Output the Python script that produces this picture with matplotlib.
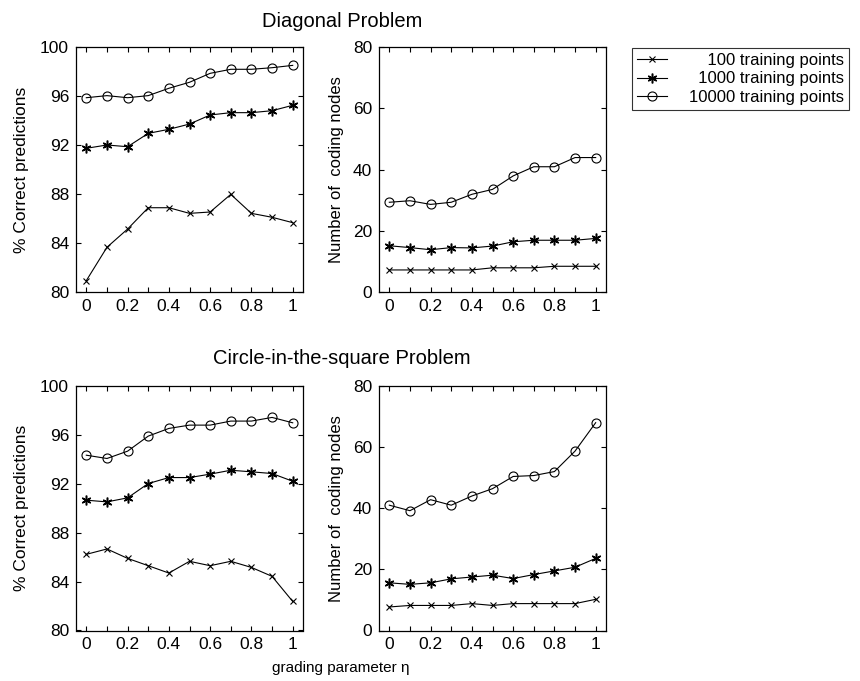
import matplotlib
matplotlib.use("Agg")
import matplotlib.pyplot as plt
from matplotlib.lines import Line2D
import numpy as np

plt.rcParams['font.family'] = ['Liberation Sans', 'DejaVu Sans']

eta = [0, 0.1, 0.2, 0.3, 0.4, 0.5, 0.6, 0.7, 0.8, 0.9, 1.0]

# Diagonal problem - % correct
diag_acc_100 = [80.93, 83.65, 85.14, 86.88, 86.88, 86.42, 86.53, 87.97, 86.42, 86.10, 85.66]
diag_acc_1000 = [91.73, 92.0, 91.86, 92.95, 93.28, 93.71, 94.45, 94.64, 94.64, 94.80, 95.24]
diag_acc_10000 = [95.86, 96.03, 95.86, 96.03, 96.63, 97.12, 97.85, 98.18, 98.18, 98.31, 98.50]

# Diagonal problem - coding nodes
diag_nodes_100 = [7.2, 7.2, 7.2, 7.2, 7.2, 7.9, 7.9, 7.9, 8.4, 8.4, 8.4]
diag_nodes_1000 = [15.1, 14.5, 13.8, 14.5, 14.4, 15.0, 16.4, 16.9, 16.9, 16.9, 17.5]
diag_nodes_10000 = [29.3, 29.8, 28.6, 29.3, 31.9, 33.5, 37.9, 40.9, 40.9, 43.9, 43.9]

# Circle-in-the-square - % correct
circ_acc_100 = [86.23, 86.67, 85.90, 85.30, 84.70, 85.66, 85.30, 85.66, 85.16, 84.43, 82.38]
circ_acc_1000 = [90.66, 90.52, 90.85, 92.02, 92.51, 92.51, 92.79, 93.11, 92.98, 92.84, 92.21]
circ_acc_10000 = [94.34, 94.07, 94.67, 95.90, 96.53, 96.80, 96.80, 97.13, 97.13, 97.43, 96.99]

# Circle-in-the-square - coding nodes
circ_nodes_100 = [7.7, 8.2, 8.2, 8.2, 8.8, 8.2, 8.8, 8.8, 8.8, 8.8, 10.2]
circ_nodes_1000 = [15.6, 15.1, 15.6, 16.9, 17.5, 18.1, 17.0, 18.3, 19.5, 20.7, 23.6]
circ_nodes_10000 = [41.0, 39.2, 42.8, 41.0, 44.0, 46.4, 50.4, 50.7, 52.0, 58.7, 68.0]

labels = ['\u2007\u2007100 training points', '\u20071000 training points', '10000 training points']
acc_ticks = [80, 84, 88, 92, 96, 100]
node_ticks = [0, 20, 40, 60, 80]
x_ticks = [0, 0.2, 0.4, 0.6, 0.8, 1]
x_tick_labels = ['0', '0.2', '0.4', '0.6', '0.8', '1']

W, H = 860, 681
fig = plt.figure(figsize=(W / 100, H / 100), dpi=100)

def ax_at(x0, y0, x1, y1):
    return fig.add_axes([x0 / W, 1 - y1 / H, (x1 - x0) / W, (y1 - y0) / H])

styles = [
    dict(marker='x', markersize=4, markeredgewidth=0.8),
    dict(marker=(6, 2, 0), markersize=7, markeredgewidth=1.1),
    dict(marker='o', markersize=6.5, markerfacecolor='none', markeredgewidth=0.8),
]

def draw(ax, series, ylim, yticks, ylabel, ylsize, ylpad):
    for s, st in zip(series, styles):
        ax.plot(eta, s, color='black', linewidth=0.8, **st)
    ax.set_xlim(-0.05, 1.05)
    ax.set_ylim(*ylim)
    ax.set_yticks(yticks)
    ax.set_xticks(x_ticks)
    ax.set_xticklabels(x_tick_labels)
    ax.set_xticks(np.arange(0, 1.01, 0.1), minor=True)
    ax.tick_params(which='both', direction='in', top=True, right=True,
                   labelsize=12.5, width=0.8)
    ax.tick_params(which='major', length=3.5, pad=5)
    ax.tick_params(which='minor', length=3.5)
    ax.set_ylabel(ylabel, fontsize=ylsize, labelpad=ylpad)
    for sp in ax.spines.values():
        sp.set_linewidth(0.9)

ax1 = ax_at(76, 47, 303, 292)
draw(ax1, [diag_acc_100, diag_acc_1000, diag_acc_10000], (80, 100), acc_ticks,
     '% Correct predictions', 12.5, 8)
ax2 = ax_at(379, 47, 606, 292)
draw(ax2, [diag_nodes_100, diag_nodes_1000, diag_nodes_10000], (0, 80), node_ticks,
     'Number of  coding nodes', 12, 6)
ax3 = ax_at(76, 386, 303, 630.5)
draw(ax3, [circ_acc_100, circ_acc_1000, circ_acc_10000], (80, 100), acc_ticks,
     '% Correct predictions', 12.5, 8)
ax4 = ax_at(379, 386, 606, 630.5)
draw(ax4, [circ_nodes_100, circ_nodes_1000, circ_nodes_10000], (0, 80), node_ticks,
     'Number of  coding nodes', 12, 6)

fig.text(342 / W, 1 - 27 / H, 'Diagonal Problem', ha='center', va='baseline', fontsize=14.5)
fig.text(342 / W, 1 - 364 / H, 'Circle-in-the-square Problem', ha='center', va='baseline', fontsize=14.5)
fig.text(341 / W, 1 - 668 / H, 'grading parameter \u03b7', ha='center', va='center', fontsize=11)

handles = [Line2D([], [], color='black', linewidth=0.8, **st) for st in styles]
leg = fig.legend(handles, labels, loc='upper left', bbox_to_anchor=(632 / W, 1 - 48 / H),
                 fontsize=12, frameon=True, fancybox=False, edgecolor='black',
                 handlelength=1.8, handletextpad=1.3, borderpad=0.3, labelspacing=0.2,
                 borderaxespad=0)
leg.get_frame().set_linewidth(0.8)

fig.savefig('out.png', dpi=100)
